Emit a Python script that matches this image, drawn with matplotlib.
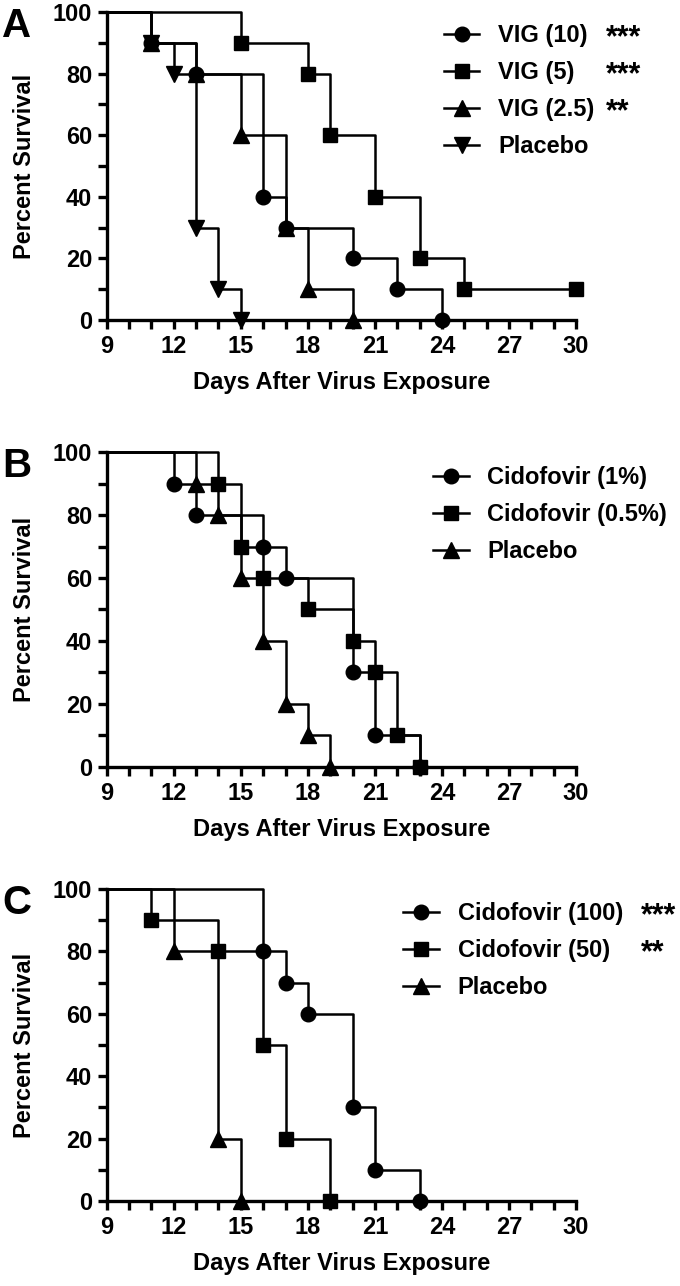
import numpy as np
import matplotlib.pyplot as plt
from matplotlib.lines import Line2D
from matplotlib.ticker import MultipleLocator
plt.rcParams.update({'font.family': ['Liberation Sans', 'DejaVu Sans'],
                     'font.weight': 'bold', 'font.size': 17,
                     'axes.labelweight': 'bold'})

# panel A - VIG
a_vig10_t = [9, 11, 13, 16, 17, 20, 22, 24]
a_vig10_s = [100, 90, 80, 40, 30, 20, 10, 0]
a_vig5_t = [9, 15, 18, 19, 21, 23, 25, 30]
a_vig5_s = [100, 90, 80, 60, 40, 20, 10, 10]
a_vig25_t = [9, 11, 13, 15, 17, 18, 20]
a_vig25_s = [100, 90, 80, 60, 30, 10, 0]
a_plac_t = [9, 11, 12, 13, 14, 15]
a_plac_s = [100, 90, 80, 30, 10, 0]
a_labels = ['VIG (10)', 'VIG (5)', 'VIG (2.5)', 'Placebo']
a_stars = ['***', '***', '**', '']

# panel B - cidofovir topical
b_cid1_t = [9, 12, 13, 16, 17, 20, 21, 23]
b_cid1_s = [100, 90, 80, 70, 60, 30, 10, 0]
b_cid05_t = [9, 14, 15, 16, 18, 20, 21, 22, 23]
b_cid05_s = [100, 90, 70, 60, 50, 40, 30, 10, 0]
b_plac_t = [9, 13, 14, 15, 16, 17, 18, 19]
b_plac_s = [100, 90, 80, 60, 40, 20, 10, 0]
b_labels = ['Cidofovir (1%)', 'Cidofovir (0.5%)', 'Placebo']
b_stars = ['', '', '']

# panel C - cidofovir
c_cid100_t = [9, 16, 17, 18, 20, 21, 23]
c_cid100_s = [100, 80, 70, 60, 30, 10, 0]
c_cid50_t = [9, 11, 14, 16, 17, 19]
c_cid50_s = [100, 90, 80, 50, 20, 0]
c_plac_t = [9, 12, 14, 15]
c_plac_s = [100, 80, 20, 0]
c_labels = ['Cidofovir (100)', 'Cidofovir (50)', 'Placebo']
c_stars = ['***', '**', '']

panels = [
    ('A', [(a_vig10_t, a_vig10_s, 'o'), (a_vig5_t, a_vig5_s, 's'),
           (a_vig25_t, a_vig25_s, '^'), (a_plac_t, a_plac_s, 'v')],
     a_labels, a_stars, [0.157, 0.7512, 0.69, 0.2395], (0.653, 0.9815), 0.891),
    ('B', [(b_cid1_t, b_cid1_s, 'o'), (b_cid05_t, b_cid05_s, 's'),
           (b_plac_t, b_plac_s, '^')],
     b_labels, b_stars, [0.157, 0.4036, 0.69, 0.2449], (0.637, 0.6377), 0.9),
    ('C', [(c_cid100_t, c_cid100_s, 'o'), (c_cid50_t, c_cid50_s, 's'),
           (c_plac_t, c_plac_s, '^')],
     c_labels, c_stars, [0.157, 0.0661, 0.69, 0.2426], (0.593, 0.2987), 0.943),
]

fig = plt.figure(figsize=(6.8, 12.86), dpi=100)
legends = []
for letter, series, labels, stars, pos, lpos, sx in panels:
    ax = fig.add_axes(pos)
    handles = []
    for t, s, m in series:
        ms = 11.5 if m in ('^', 'v') else 10.5
        ax.step(t, s, where='post', color='black', lw=1.8, clip_on=False)
        ax.plot(t[1:], s[1:], ls='none', marker=m, ms=ms, color='black',
                clip_on=False, zorder=3)
        handles.append(Line2D([], [], color='black', lw=1.8, marker=m, ms=ms))
    ax.set_xlim(9, 30)
    ax.set_ylim(0, 100)
    ax.xaxis.set_major_locator(MultipleLocator(3))
    ax.xaxis.set_minor_locator(MultipleLocator(1))
    ax.yaxis.set_major_locator(MultipleLocator(20))
    ax.yaxis.set_minor_locator(MultipleLocator(10))
    for side in ['top', 'right']:
        ax.spines[side].set_visible(False)
    for side in ['left', 'bottom']:
        ax.spines[side].set_linewidth(2.4)
    ax.tick_params(which='both', direction='out', length=6.5, width=2.4,
                   labelsize=17, pad=4)
    ax.set_xlabel('Days After Virus Exposure', fontsize=17, labelpad=10)
    ax.set_ylabel('Percent Survival', fontsize=17, labelpad=12)
    leg = fig.legend(handles, labels, loc='upper left', bbox_to_anchor=lpos,
                     frameon=False, fontsize=17, handlelength=1.5,
                     handletextpad=0.8, labelspacing=0.6, borderpad=0,
                     borderaxespad=0, numpoints=1)
    legends.append((leg, stars, sx))
    fig.text(0.003, pos[1] + pos[3] + 0.004, letter, fontsize=29,
             fontweight='bold', va='top', ha='left')

fig.canvas.draw()
inv = fig.transFigure.inverted()
for leg, stars, sx in legends:
    for txt, st in zip(leg.get_texts(), stars):
        if st:
            bb = txt.get_window_extent()
            yc = inv.transform((0, (bb.y0 + bb.y1) / 2))[1]
            fig.text(sx, yc - 0.002, st, fontsize=22, fontweight='bold',
                     va='center', ha='left')

plt.savefig('out.png', dpi=100)
plt.close(fig)
